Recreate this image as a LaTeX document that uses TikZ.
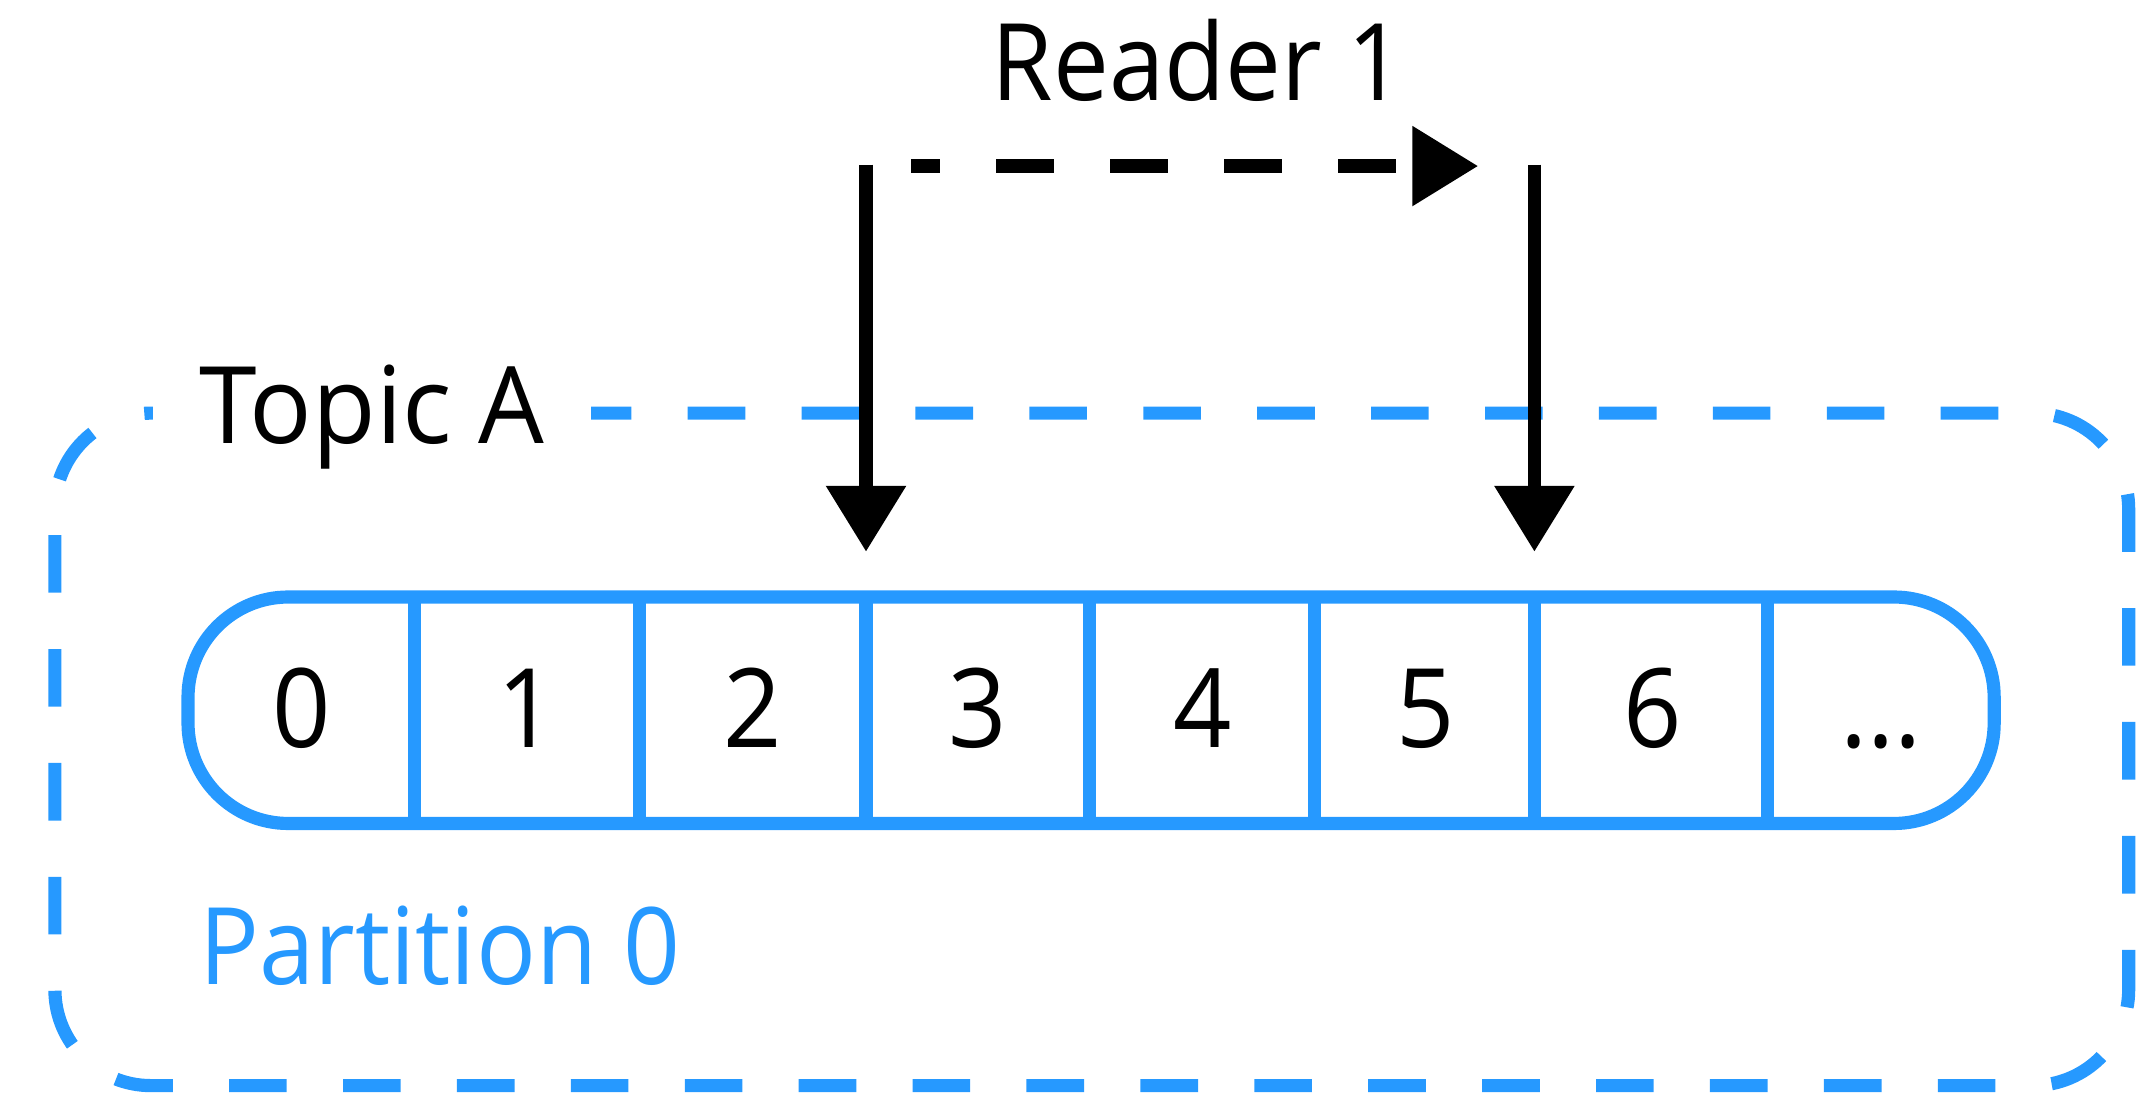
\documentclass[tikz,border=0pt]{standalone}
\usepackage{fontspec}
\setmainfont{Open Sans}[FakeStretch=0.93]
\newfontfamily\topicfont{Open Sans}[FakeStretch=0.97]
\usetikzlibrary{arrows.meta}
\definecolor{pblue}{RGB}{38,153,255}
\begin{document}
\begin{tikzpicture}[x=0.5pt,y=-0.5pt,
  lbl/.style={font=\fontsize{39}{47}\selectfont, inner sep=0pt},
  digit/.style={font=\fontsize{40}{48}\selectfont, inner sep=0pt, anchor=base},
  blueline/.style={draw=pblue, line width=4.8pt},
  dashpat/.style={dash pattern=on 21pt off 20.5pt},
  ptr/.style={draw=black, line width=4.8pt, -{Triangle[length=24pt,width=28pt]}}
]
\useasboundingbox (0,0) rectangle (1568,796);
% outer dashed topic box
\draw[blueline, dashpat, dash phase=12pt, rounded corners=35pt]
  (40,301) -- (1551,301) -- (1551,791) -- (40,791) -- cycle;
\node[lbl, font=\topicfont\fontsize{39}{47}\selectfont, fill=white, inner xsep=17pt, inner ysep=4pt, anchor=base west] (topic) at (111,323) {Topic A};
% partition
\draw[blueline, rounded corners=36.5pt] (137,435) rectangle (1453,600);
\foreach \x in {302,466,631,794,958,1118,1288} \draw[blueline] (\x,435) -- (\x,600);
\node[digit] (c0) at (219.5,545) {0};
\node[digit] (c1) at (384,545) {1};
\node[digit] (c2) at (548.5,545) {2};
\node[digit] (c3) at (712.5,545) {3};
\node[digit] (c4) at (876,545) {4};
\node[digit] (c5) at (1039,545) {5};
\node[digit] (c6) at (1204,545) {6};
\node[digit] (c7) at (1370.5,545) {...};
\node[lbl, text=pblue, anchor=base west] (part) at (145,717) {Partition 0};
% reader
\node[lbl, anchor=base] (reader) at (873,73) {Reader 1};
\coordinate (ls) at (631,120);
\coordinate (lt) at (631,402);
\coordinate (rs) at (1118,120);
\coordinate (rt) at (1118,402);
\coordinate (hs) at (664,121);
\coordinate (he) at (1077,121);
\draw[ptr] (ls) -- (lt);
\draw[ptr] (rs) -- (rt);
\draw[ptr, dashpat, dash phase=10.5pt] (hs) -- (he);
\end{tikzpicture}
\end{document}
